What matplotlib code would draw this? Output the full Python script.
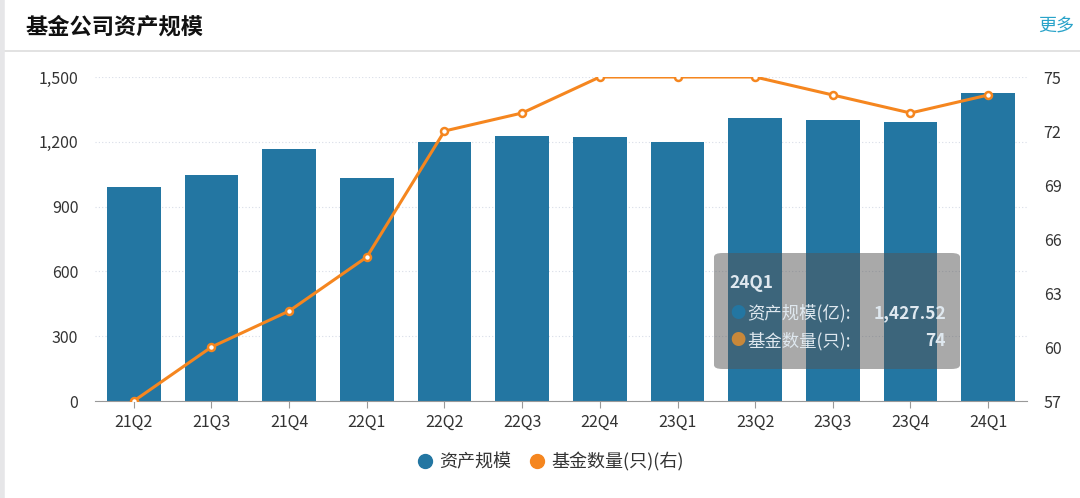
import matplotlib.pyplot as plt
import numpy as np
from matplotlib.patches import FancyBboxPatch
from matplotlib.lines import Line2D

plt.rcParams['font.family'] = ['Noto Sans CJK SC', 'DejaVu Sans']

quarters = ['21Q2', '21Q3', '21Q4', '22Q1', '22Q2', '22Q3', '22Q4', '23Q1', '23Q2', '23Q3', '23Q4', '24Q1']
asset_size = [991, 1046, 1167, 1032, 1199, 1227, 1222, 1199, 1310, 1301, 1292, 1427.52]
fund_count = [57, 60, 62, 65, 72, 73, 75, 75, 75, 74, 73, 74]
left_ticks = [0, 300, 600, 900, 1200, 1500]
right_ticks = [57, 60, 63, 66, 69, 72, 75]

bar_color = '#2376a2'
line_color = '#f5861f'
text_color = '#333333'

fig = plt.figure(figsize=(10.8, 4.98), dpi=100)
fig.patch.set_facecolor('white')

# header
fig.text(25 / 1080, 1 - 27 / 498, '基金公司资产规模', fontsize=16, fontweight='bold',
         color='#111111', va='center', ha='left')
fig.text(1074 / 1080, 1 - 27 / 498, '更多', fontsize=13, color='#29a3c9', va='center', ha='right')
fig.add_artist(Line2D([0, 1], [1 - 51 / 498] * 2, color='#dddddd', lw=1.2))
fig.add_artist(Line2D([2 / 1080] * 2, [0, 1], color='#e6e6e8', lw=4))

ax = fig.add_axes([95 / 1080, 1 - 401 / 498, 932 / 1080, 324 / 498])
x = np.arange(len(quarters))
ax.bar(x, asset_size, width=0.69, color=bar_color, zorder=2)
ax.set_xlim(-0.5, len(quarters) - 0.5)
ax.set_ylim(0, 1500)
ax.set_yticks(left_ticks)
ax.set_yticklabels([f'{v:,}' for v in left_ticks])
ax.set_xticks(x)
ax.set_xticklabels(quarters)
ax.yaxis.grid(True, linestyle=(0, (1, 2)), color='#d8dde8', lw=0.8, zorder=0)
for s in ['top', 'right', 'left']:
    ax.spines[s].set_visible(False)
ax.spines['bottom'].set_color('#999999')
ax.tick_params(axis='y', length=0, labelsize=11.5, colors=text_color, pad=12)
ax.tick_params(axis='x', length=5, color='#999999', labelsize=11.5, labelcolor=text_color, pad=4)

ax2 = ax.twinx()
ax2.plot(x, fund_count, color=line_color, lw=2.2, marker='o', markersize=5,
         markerfacecolor='white', markeredgecolor=line_color, markeredgewidth=1.8, zorder=3)
ax2.set_ylim(57, 75)
ax2.set_yticks(right_ticks)
for s in ['top', 'right', 'left', 'bottom']:
    ax2.spines[s].set_visible(False)
ax2.tick_params(axis='y', length=0, labelsize=11.5, colors=text_color, pad=12)

# tooltip
tip = FancyBboxPatch((714 / 1080, 1 - 369 / 498), 246 / 1080, 116 / 498,
                     boxstyle='round,pad=0,rounding_size=0.008',
                     transform=fig.transFigure, facecolor='#555555', alpha=0.5,
                     edgecolor='none', zorder=5)
fig.add_artist(tip)
tc = '#dfe8ef'
tz = 10
fig.text(729 / 1080, 1 - 283 / 498, '24Q1', fontsize=12.5, fontweight='bold', color=tc, va='center', zorder=tz)
fig.text(738 / 1080, 1 - 313 / 498, '●', fontsize=11, color=bar_color, va='center', ha='center', zorder=tz)
fig.text(747 / 1080, 1 - 313 / 498, '资产规模(亿):', fontsize=12.5, color=tc, va='center', zorder=tz)
fig.text(946 / 1080, 1 - 313 / 498, f'{asset_size[-1]:,.2f}', fontsize=12.5, fontweight='bold', color=tc,
         va='center', ha='right', zorder=tz)
fig.text(738 / 1080, 1 - 341 / 498, '●', fontsize=11, color='#c8883a', va='center', ha='center', zorder=tz)
fig.text(747 / 1080, 1 - 341 / 498, '基金数量(只):', fontsize=12.5, color=tc, va='center', zorder=tz)
fig.text(946 / 1080, 1 - 341 / 498, f'{fund_count[-1]}', fontsize=12.5, fontweight='bold', color=tc,
         va='center', ha='right', zorder=tz)

handles = [Line2D([], [], marker='o', linestyle='', color=bar_color, markersize=10),
           Line2D([], [], marker='o', linestyle='', color=line_color, markersize=10)]
fig.legend(handles, ['资产规模', '基金数量(只)(右)'], loc='center', bbox_to_anchor=(0.51, 1 - 462 / 498),
           ncol=2, frameon=False, fontsize=13, handlelength=0.8, handletextpad=0.4, columnspacing=1.0,
           labelcolor=text_color)

fig.savefig('out.png', dpi=100)
